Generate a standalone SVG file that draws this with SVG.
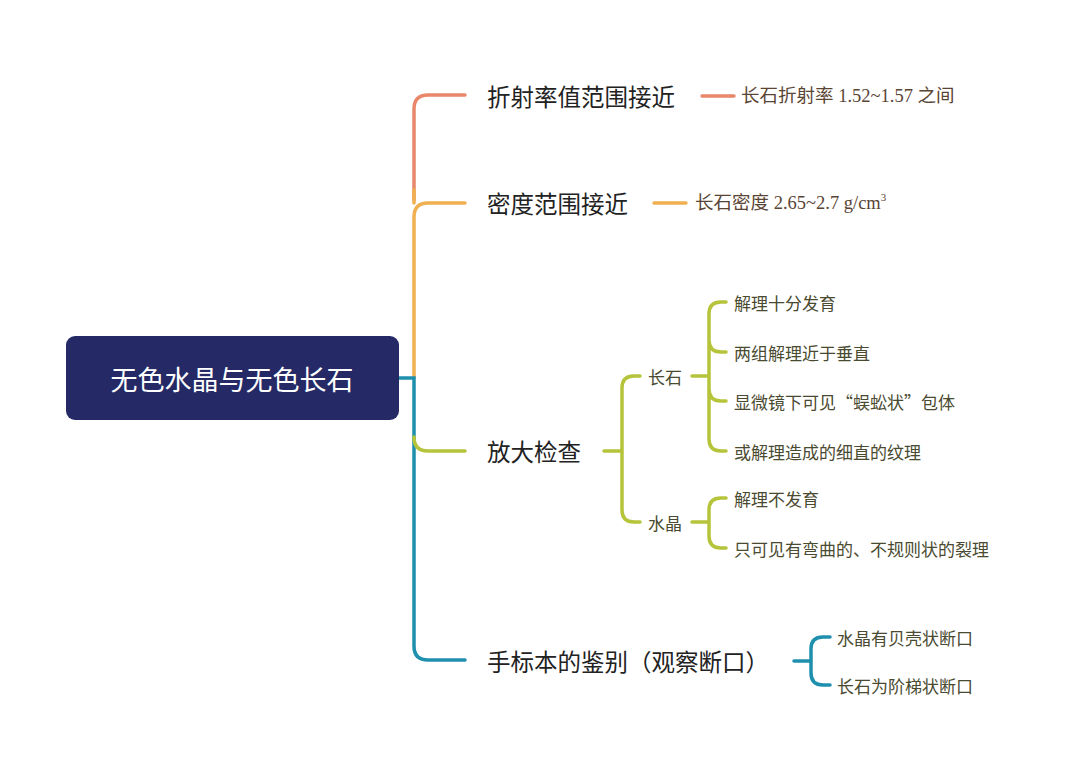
<svg xmlns="http://www.w3.org/2000/svg" width="1080" height="769" viewBox="0 0 1080 769">
<style>
.l{fill:none;stroke-width:3.5;stroke-linecap:round}
.t{font-family:"Noto Sans CJK SC","Noto Sans",sans-serif;dominant-baseline:central}
.m{font-size:23.5px;fill:#222}
.s{font-size:17px;fill:#4a4a30}
.b{font-size:18.5px;fill:#5a4535;font-family:"Liberation Serif","Noto Sans CJK SC",serif}
</style>
<rect width="1080" height="769" fill="#fff"/>
<g id="connectors">
<path class="l" stroke="#e8876a" d="M465,95 H428 Q414,95 414,109 V200"/>
<path class="l" stroke="#f0b050" d="M465,203 H428 Q414,203 414,217 V378 M414,203 V190"/>
<path class="l" stroke="#1f8fae" d="M399,378 H414 V646 Q414,660 428,660 H465 M414,378 V450"/>
<path class="l" stroke="#b5c43a" d="M414,437 Q414,451 428,451 H465"/>
<path class="l" stroke="#e8876a" d="M702,96 H734"/>
<path class="l" stroke="#f0b050" d="M654,203 H686"/>
<path class="l" stroke="#b5c43a" d="M604,451 H622 M640,376 H634 Q622,376 622,388 V510 Q622,522 634,522 H640"/>
<path class="l" stroke="#b5c43a" d="M692,376 H709 M726,302 H721 Q709,302 709,314 V439 Q709,451 721,451 H726 M709,340 Q709,352 721,352 H726 M709,389 Q709,401 721,401 H726"/>
<path class="l" stroke="#b5c43a" d="M692,522 H709 M726,498 H721 Q709,498 709,510 V536 Q709,548 721,548 H726"/>
<path class="l" stroke="#1f8fae" d="M794,661 H811 M830,637 H823 Q811,637 811,649 V673 Q811,685 823,685 H830"/>
</g>
<g id="root"><rect x="66" y="336" width="333" height="84" rx="9" fill="#252a66"/><text class="t" x="232" y="378" text-anchor="middle" font-size="27" fill="#fff">无色水晶与无色长石</text></g>
<g id="n1"><text class="t m" x="487" y="96">折射率值范围接近</text></g>
<g id="n1a"><text class="t b" x="741" y="96">长石折射率 1.52~1.57 之间</text></g>
<g id="n2"><text class="t m" x="487" y="203">密度范围接近</text></g>
<g id="n2a"><text class="t b" x="695" y="203">长石密度 2.65~2.7 g/cm<tspan font-size="11" dy="-6">3</tspan></text></g>
<g id="n3"><text class="t m" x="487" y="451">放大检查</text></g>
<g id="n3a"><text class="t s" x="648" y="376">长石</text></g>
<g id="n3b"><text class="t s" x="648" y="522">水晶</text></g>
<g id="n3a1"><text class="t s" x="734" y="302">解理十分发育</text></g>
<g id="n3a2"><text class="t s" x="734" y="352">两组解理近于垂直</text></g>
<g id="n3a3"><text class="t s" x="734" y="401">显微镜下可见“蜈蚣状”包体</text></g>
<g id="n3a4"><text class="t s" x="734" y="451">或解理造成的细直的纹理</text></g>
<g id="n3b1"><text class="t s" x="734" y="498">解理不发育</text></g>
<g id="n3b2"><text class="t s" x="734" y="548">只可见有弯曲的、不规则状的裂理</text></g>
<g id="n4"><text class="t m" x="487" y="661">手标本的鉴别（观察断口）</text></g>
<g id="n4a"><text class="t s" x="837" y="637" fill="#1a6f8a">水晶有贝壳状断口</text></g>
<g id="n4b"><text class="t s" x="837" y="685" fill="#1a6f8a">长石为阶梯状断口</text></g>
</svg>
